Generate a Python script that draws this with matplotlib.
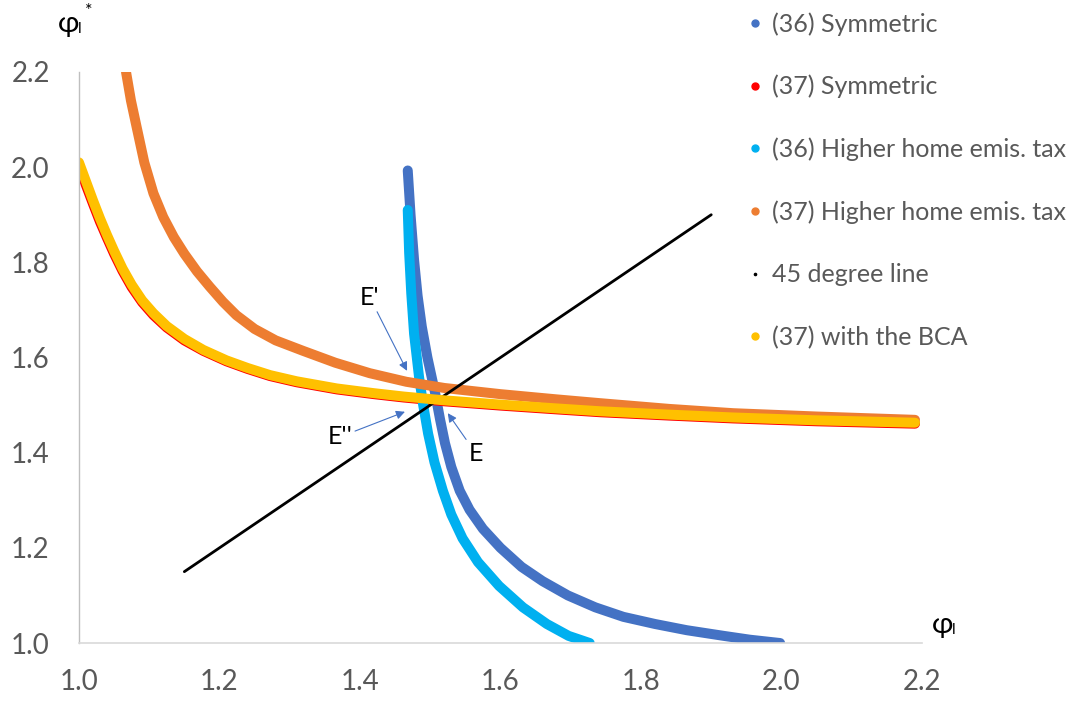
import matplotlib
matplotlib.use("Agg")
import matplotlib.pyplot as plt
from matplotlib.lines import Line2D

plt.rcParams['font.family'] = ['Lato', 'DejaVu Sans']

# (36) Symmetric
sym36_x = [1.468, 1.472, 1.477, 1.482, 1.488, 1.496, 1.507, 1.514, 1.521, 1.530, 1.542, 1.556,
           1.575, 1.600, 1.630, 1.660, 1.696, 1.735, 1.775, 1.820, 1.865, 1.918, 1.955, 1.998]
sym36_y = [1.993, 1.900, 1.805, 1.730, 1.665, 1.600, 1.525, 1.470, 1.420, 1.370, 1.320, 1.280,
           1.240, 1.200, 1.160, 1.130, 1.100, 1.075, 1.055, 1.040, 1.027, 1.015, 1.007, 1.000]

# (37) Symmetric
sym37_x = [1.000, 1.010, 1.020, 1.030, 1.040, 1.050, 1.062, 1.075, 1.090, 1.106, 1.125, 1.150,
           1.177, 1.210, 1.240, 1.272, 1.310, 1.367, 1.420, 1.462, 1.520, 1.600, 1.680, 1.742,
           1.840, 1.931, 2.050, 2.190]
sym37_y = [2.002, 1.962, 1.923, 1.885, 1.851, 1.818, 1.782, 1.748, 1.716, 1.689, 1.663, 1.636,
           1.614, 1.592, 1.576, 1.561, 1.548, 1.533, 1.523, 1.516, 1.508, 1.499, 1.491, 1.485,
           1.478, 1.472, 1.466, 1.461]

# (36) Higher home emission tax
tax36_x = [1.468, 1.470, 1.473, 1.477, 1.484, 1.490, 1.497, 1.506, 1.518, 1.530, 1.546,
           1.568, 1.598, 1.632, 1.666, 1.697, 1.727]
tax36_y = [1.910, 1.820, 1.735, 1.650, 1.560, 1.500, 1.440, 1.380, 1.320, 1.270, 1.220,
           1.170, 1.120, 1.075, 1.040, 1.015, 1.000]

# (37) Higher home emission tax
tax37_x = [1.067, 1.074, 1.082, 1.093, 1.106, 1.120, 1.135, 1.150, 1.168, 1.186, 1.205, 1.224,
           1.250, 1.280, 1.319, 1.365, 1.414, 1.466, 1.520, 1.600, 1.680, 1.742, 1.840, 1.931,
           2.050, 2.190]
tax37_y = [2.200, 2.140, 2.085, 2.010, 1.945, 1.895, 1.853, 1.818, 1.781, 1.749, 1.717, 1.689,
           1.660, 1.636, 1.614, 1.589, 1.567, 1.549, 1.536, 1.523, 1.512, 1.504, 1.492, 1.483,
           1.476, 1.469]

# 45 degree line
deg45_x = [1.15, 1.90]
deg45_y = [1.15, 1.90]

# (37) with the BCA
bca_x = [1.000, 1.010, 1.020, 1.030, 1.040, 1.050, 1.062, 1.075, 1.090, 1.106, 1.125, 1.150,
         1.177, 1.210, 1.240, 1.272, 1.310, 1.367, 1.420, 1.462, 1.520, 1.600, 1.680, 1.742,
         1.840, 1.931, 2.050, 2.190]
bca_y = [2.010, 1.970, 1.930, 1.892, 1.857, 1.824, 1.787, 1.753, 1.720, 1.693, 1.666, 1.639,
         1.616, 1.594, 1.578, 1.563, 1.550, 1.535, 1.525, 1.518, 1.510, 1.501, 1.493, 1.487,
         1.480, 1.474, 1.468, 1.463]

ticks = [1.0, 1.2, 1.4, 1.6, 1.8, 2.0, 2.2]

fig = plt.figure(figsize=(10.86, 7.03), dpi=100)
ax = fig.add_axes([0.0727, 0.0853, 0.7763, 0.8123])

lw = 7.2
kw = dict(solid_capstyle='round', solid_joinstyle='round')
ax.plot(sym36_x, sym36_y, color='#4472C4', lw=lw, **kw)
ax.plot(sym37_x, sym37_y, color='#FF0000', lw=lw, **kw)
ax.plot(tax36_x, tax36_y, color='#00B0F0', lw=lw, **kw)
ax.plot(tax37_x, tax37_y, color='#ED7D31', lw=lw, **kw)
ax.plot(deg45_x, deg45_y, color='black', lw=2.0, **kw)
ax.plot(bca_x, bca_y, color='#FFC000', lw=lw, **kw)

ax.set_xlim(1.0, 2.2)
ax.set_ylim(1.0, 2.2)
ax.set_xticks(ticks)
ax.set_yticks(ticks)
ax.set_xticklabels([f"{t:.1f}" for t in ticks])
ax.set_yticklabels([f"{t:.1f}" for t in ticks])
ax.tick_params(length=0, labelsize=20, labelcolor='#595959')
ax.tick_params(axis='x', pad=19)
ax.tick_params(axis='y', pad=21)
for s in ['top', 'right']:
    ax.spines[s].set_visible(False)
ax.spines['left'].set_color('#BFBFBF')
ax.spines['bottom'].set_color('#D9D9D9')
ax.spines['left'].set_linewidth(1.0)
ax.spines['bottom'].set_linewidth(1.2)

# equilibrium labels
arrow = dict(arrowstyle='-|>', color='#4472C4', lw=0.8, mutation_scale=13,
             shrinkA=0, shrinkB=0)
ax.annotate("E'", xy=(1.467, 1.572), xytext=(1.428, 1.702), arrowprops=arrow,
            fontsize=18, ha='right', va='bottom')
ax.annotate("E''", xy=(1.464, 1.486), xytext=(1.389, 1.433), arrowprops=arrow,
            fontsize=18, ha='right', va='center')
ax.annotate("E", xy=(1.525, 1.483), xytext=(1.555, 1.422), arrowprops=arrow,
            fontsize=18, ha='left', va='top')

# axis titles
fig.text(0.053, 0.955, "φ", fontsize=21, ha='left', va='baseline')
fig.text(0.0715, 0.953, "l", fontsize=11, ha='left', va='baseline')
fig.text(0.0785, 0.977, "*", fontsize=13, ha='left', va='baseline')
fig.text(0.858, 0.100, "φ", fontsize=21, ha='left', va='baseline')
fig.text(0.8765, 0.098, "l", fontsize=11, ha='left', va='baseline')

handles = [
    Line2D([], [], ls='none', marker='o', ms=5, color='#4472C4'),
    Line2D([], [], ls='none', marker='o', ms=5, color='#FF0000'),
    Line2D([], [], ls='none', marker='o', ms=5, color='#00B0F0'),
    Line2D([], [], ls='none', marker='o', ms=5, color='#ED7D31'),
    Line2D([], [], ls='none', marker='o', ms=1.6, color='black'),
    Line2D([], [], ls='none', marker='o', ms=5, color='#FFC000'),
]
labels = ["(36) Symmetric", "(37) Symmetric", "(36) Higher home emis. tax",
          "(37) Higher home emis. tax", "45 degree line", "(37) with the BCA"]
fig.legend(handles, labels, loc='upper left', bbox_to_anchor=(0.668, 1.015),
           frameon=False, fontsize=18, labelcolor='#595959',
           handlelength=0.6, handletextpad=0.35, labelspacing=1.57)

fig.savefig("out.png", dpi=100)
